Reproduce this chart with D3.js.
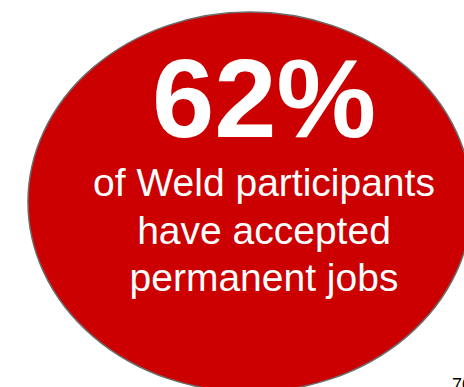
<!DOCTYPE html>
<html>
<head>
<meta charset="utf-8">
<script src="https://cdn.jsdelivr.net/npm/d3@7"></script>
<style>
  html, body { margin: 0; padding: 0; background: #fff; overflow: hidden; }
  #stat { width: 464px; height: 387px; }
</style>
</head>
<body>
<div id="stat"></div>
<script>
// big stat callout: one number inside a red ellipse
const statValues = [62];
const statLabels = ["of Weld participants", "have accepted", "permanent jobs"];
const pageLabels = ["70"];

(function initStat() {
  const width = 464;
  const height = 387;

  const svg = d3.select("#stat")
    .append("svg")
    .attr("width", width)
    .attr("height", height);

  const fmt = d3.format(".0%");

  svg.append("ellipse")
    .attr("cx", 250)
    .attr("cy", 202)
    .attr("rx", 222)
    .attr("ry", 190)
    .attr("fill", "#cc0000")
    .attr("stroke", "#6b6b6b")
    .attr("stroke-width", 1.5);

  svg.selectAll("text.big")
    .data(statValues)
    .join("text")
    .attr("class", "big")
    .attr("x", 264)
    .attr("y", 137)
    .attr("text-anchor", "middle")
    .attr("fill", "#fff")
    .attr("font-family", "Liberation Sans, Arial, sans-serif")
    .attr("font-weight", "bold")
    .attr("font-size", 112)
    .text((d) => fmt(d / 100));

  const lineY = d3.scalePoint()
    .domain(statLabels)
    .range([196, 291]);

  svg.selectAll("text.label")
    .data(statLabels)
    .join("text")
    .attr("class", "label")
    .attr("x", 264)
    .attr("y", (d) => lineY(d))
    .attr("text-anchor", "middle")
    .attr("fill", "#fff")
    .attr("font-family", "Liberation Sans, Arial, sans-serif")
    .attr("font-size", 39)
    .text((d) => d);

  svg.selectAll("text.page")
    .data(pageLabels)
    .join("text")
    .attr("class", "page")
    .attr("x", 452)
    .attr("y", 391)
    .attr("fill", "#000")
    .attr("font-family", "Liberation Sans, Arial, sans-serif")
    .attr("font-size", 18)
    .text((d) => d);
})();
</script>
</body>
</html>
